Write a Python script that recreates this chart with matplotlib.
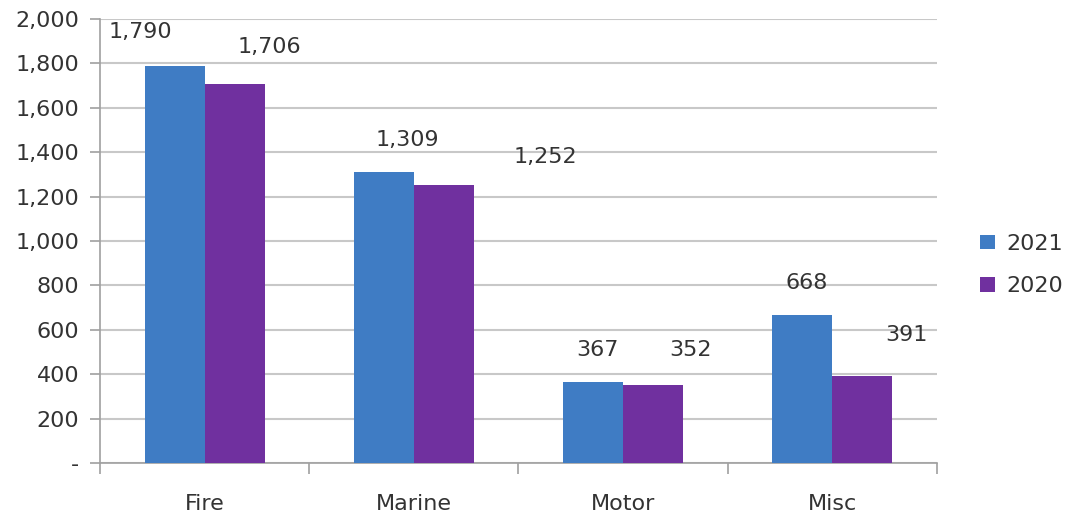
import numpy as np
import matplotlib.pyplot as plt
from matplotlib.ticker import FuncFormatter, FixedLocator

categories = ["Fire", "Marine", "Motor", "Misc"]
series_names = ["2021", "2020"]
values_2021 = [1790, 1309, 367, 668]
values_2020 = [1706, 1252, 352, 391]
label_text_2021 = ["1,790", "1,309", "367", "668"]
label_text_2020 = ["1,706", "1,252", "352", "391"]

# label offsets (points) as they sit in the original
offs_2021 = [(-25, 24), (17, 23), (3, 23), (3, 23)]
offs_2020 = [(25, 27), (73, 20), (27, 25), (32, 30)]

colors = ["#3F7CC4", "#70309F"]
txt = "#333333"

plt.rcParams['font.family'] = ['DejaVu Sans']

fig = plt.figure(figsize=(10.77, 5.2), dpi=100)
ax = fig.add_axes([0.0929, 0.1096, 0.777, 0.854])

x = np.arange(len(categories))
w = 0.287
b1 = ax.bar(x - w / 2, values_2021, w, color=colors[0], label=series_names[0], zorder=3)
b2 = ax.bar(x + w / 2, values_2020, w, color=colors[1], label=series_names[1], zorder=3)

for rects, texts, offs in [(b1, label_text_2021, offs_2021), (b2, label_text_2020, offs_2020)]:
    for r, t, o in zip(rects, texts, offs):
        ax.annotate(t, (r.get_x() + r.get_width() / 2, r.get_height()),
                    xytext=o, textcoords="offset points", ha="center", va="center",
                    fontsize=16, color=txt)

ax.set_xlim(-0.5, len(categories) - 0.5)
ax.set_ylim(0, 2000)
ax.set_yticks(np.arange(0, 2001, 200))
ax.yaxis.set_major_formatter(FuncFormatter(lambda v, p: "-" if v == 0 else f"{int(v):,}"))
ax.grid(axis="y", color="#C8C8C8", linewidth=1.5, zorder=0)

ax.set_xticks(x)
ax.set_xticklabels(categories)
ax.xaxis.set_minor_locator(FixedLocator(np.arange(-0.5, len(categories), 1.0)))
ax.tick_params(axis="x", which="major", length=0, pad=22, labelsize=16, labelcolor=txt)
ax.tick_params(axis="x", which="minor", length=8, color="#A0A0A0", width=1.2)
ax.tick_params(axis="y", length=7, color="#A0A0A0", width=1.2, labelsize=16, labelcolor=txt, pad=8)

for s in ["top", "right"]:
    ax.spines[s].set_visible(False)
for s in ["left", "bottom"]:
    ax.spines[s].set_color("#A0A0A0")
    ax.spines[s].set_linewidth(1.2)

ax.legend(loc="center left", bbox_to_anchor=(1.052, 0.446), frameon=False, fontsize=16,
          handlelength=0.65, handleheight=0.65, handletextpad=0.5, labelspacing=1.0,
          borderaxespad=0, borderpad=0, labelcolor=txt)

fig.savefig("out.png", dpi=100)
